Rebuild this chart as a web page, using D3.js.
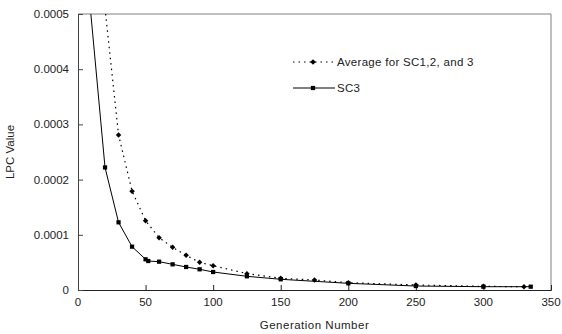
<!DOCTYPE html>
<html>
<head>
<meta charset="utf-8">
<script src="https://cdn.jsdelivr.net/npm/d3@7"></script>
<style>
  html, body { margin: 0; padding: 0; background: #fff; }
  text { font-family: "Liberation Sans", Arial, sans-serif; }
</style>
</head>
<body>
<div id="chart"></div>
<script>
// Generation numbers and LPC values
const avgGen = [20, 30, 40, 50, 60, 70, 80, 90, 100, 125, 150, 175, 200, 250, 300, 330];
const avgVal = [0.00051, 0.000281, 0.000179, 0.0001256, 0.0000948, 0.0000773, 0.0000628, 0.0000502,
  0.000044, 0.0000296, 0.0000211, 0.0000181, 0.0000133, 0.0000091, 0.0000066, 0.000006];

const sc3Gen = [5, 20, 30, 40, 50, 52, 60, 70, 80, 90, 100, 125, 150, 200, 250, 300, 335];
const sc3Val = [0.00062, 0.000222, 0.0001226, 0.0000785, 0.0000556, 0.0000525, 0.0000513, 0.0000465,
  0.0000417, 0.0000375, 0.0000326, 0.0000248, 0.0000194, 0.0000121, 0.0000072, 0.000006, 0.000006];

const xTicks = [0, 50, 100, 150, 200, 250, 300, 350];
const yTicks = [0, 0.0001, 0.0002, 0.0003, 0.0004, 0.0005];
const yTickLabels = ['0', '0.0001', '0.0002', '0.0003', '0.0004', '0.0005'];

const width = 562, height = 334;
const margin = { top: 14, right: 11, bottom: 44, left: 78 };

const svg = d3.select('#chart').append('svg')
  .attr('width', width)
  .attr('height', height);

const x = d3.scaleLinear().domain([0, 350]).range([margin.left, width - margin.right]);
const y = d3.scaleLinear().domain([0, 0.0005]).range([height - margin.bottom, margin.top]);

svg.append('clipPath').attr('id', 'plot-clip')
  .append('rect')
  .attr('x', margin.left).attr('y', margin.top)
  .attr('width', x(350) - x(0)).attr('height', y(0) - y(0.0005));

// frame (top + right)
svg.append('path')
  .attr('d', `M${x(0)},${y(0.0005)}H${x(350)}V${y(0)}`)
  .attr('fill', 'none')
  .attr('stroke', '#808080')
  .attr('stroke-width', 1);

// axes, ticks pointing inward
const xAxis = svg.append('g')
  .attr('transform', `translate(0,${y(0)})`)
  .call(d3.axisTop(x).tickValues(xTicks).tickSize(5).tickFormat(''));
xAxis.select('.domain').attr('stroke', '#222');
xAxis.selectAll('.tick line').attr('stroke', '#222');

const yAxis = svg.append('g')
  .attr('transform', `translate(${x(0)},0)`)
  .call(d3.axisRight(y).tickValues(yTicks).tickSize(5).tickFormat(''));
yAxis.select('.domain').attr('stroke', '#444');
yAxis.selectAll('.tick line').attr('stroke', '#444');

// tick labels
svg.append('g').selectAll('text')
  .data(xTicks)
  .enter().append('text')
  .attr('x', d => x(d))
  .attr('y', y(0) + 16)
  .attr('text-anchor', 'middle')
  .style('font-size', '11.5px')
  .style('fill', '#222')
  .text(d => d);

svg.append('g').selectAll('text')
  .data(yTicks)
  .enter().append('text')
  .attr('x', x(0) - 9)
  .attr('y', d => y(d) + 4)
  .attr('text-anchor', 'end')
  .style('font-size', '11.5px')
  .style('fill', '#222')
  .text((d, i) => yTickLabels[i]);

// axis titles
svg.append('text')
  .attr('x', (x(0) + x(350)) / 2)
  .attr('y', height - 5)
  .attr('text-anchor', 'middle')
  .style('font-size', '11.5px')
  .style('letter-spacing', '0.5px')
  .style('fill', '#222')
  .text('Generation Number');

svg.append('text')
  .attr('transform', `translate(14,${(y(0) + y(0.0005)) / 2}) rotate(-90)`)
  .attr('text-anchor', 'middle')
  .style('font-size', '11.5px')
  .style('fill', '#222')
  .text('LPC Value');

const plot = svg.append('g').attr('clip-path', 'url(#plot-clip)');

const line = d3.line().x(d => x(d[0])).y(d => y(d[1]));
const avgPts = avgGen.map((g, i) => [g, avgVal[i]]);
const sc3Pts = sc3Gen.map((g, i) => [g, sc3Val[i]]);

plot.append('path')
  .attr('d', line(avgPts))
  .attr('fill', 'none')
  .attr('stroke', '#000')
  .attr('stroke-width', 1.2)
  .attr('stroke-dasharray', '1.5,4');

plot.append('path')
  .attr('d', line(sc3Pts))
  .attr('fill', 'none')
  .attr('stroke', '#000')
  .attr('stroke-width', 1);

// Excel-style small diamond = square turned 45 degrees
const diamond = d3.symbol().type(d3.symbolSquare).size(15);
const square = d3.symbol().type(d3.symbolSquare).size(18);

plot.selectAll('.avg-pt')
  .data(avgPts)
  .enter().append('path')
  .attr('class', 'avg-pt')
  .attr('transform', d => `translate(${x(d[0])},${y(d[1])}) rotate(45)`)
  .attr('d', diamond)
  .attr('fill', '#000');

plot.selectAll('.sc3-pt')
  .data(sc3Pts)
  .enter().append('path')
  .attr('class', 'sc3-pt')
  .attr('transform', d => `translate(${x(d[0])},${y(d[1])})`)
  .attr('d', square)
  .attr('fill', '#000');

// legend
const legend = svg.append('g');
const legendItems = [
  { label: 'Average for SC1,2, and 3', dash: '1.5,4', sym: diamond, rot: 45, y: 62 },
  { label: 'SC3', dash: null, sym: square, rot: 0, y: 88 }
];
legendItems.forEach(it => {
  legend.append('line')
    .attr('x1', 293).attr('x2', 335)
    .attr('y1', it.y).attr('y2', it.y)
    .attr('stroke', '#000')
    .attr('stroke-width', 1)
    .attr('stroke-dasharray', it.dash);
  legend.append('path')
    .attr('transform', `translate(313,${it.y}) rotate(${it.rot})`)
    .attr('d', it.sym)
    .attr('fill', '#000');
  legend.append('text')
    .attr('x', 337)
    .attr('y', it.y + 4)
    .style('font-size', '11.5px')
    .style('letter-spacing', '0.3px')
    .style('fill', '#222')
    .text(it.label);
});
</script>
</body>
</html>
